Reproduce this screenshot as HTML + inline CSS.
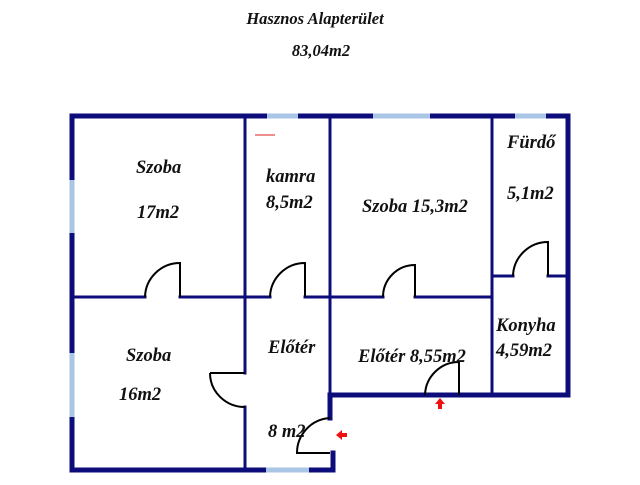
<!DOCTYPE html>
<html><head><meta charset="utf-8"><style>
body{margin:0;background:#fff;width:640px;height:480px;overflow:hidden}
svg text{font-family:"Liberation Serif",serif;font-weight:bold;font-style:italic;font-size:18.5px;fill:#111}
svg text.t{font-size:16.5px}
</style></head><body>
<svg width="640" height="480" viewBox="0 0 640 480">
<text class="t" x="315" y="24" text-anchor="middle">Hasznos Alapterület</text>
<text class="t" x="321" y="56" text-anchor="middle">83,04m2</text>
<g stroke="#0c0c7a" fill="none" stroke-linecap="square">
<path d="M72 116 H568 V395 H330 M72 116 V470 H333 V453 M330 418 V395" stroke-width="5"/>
<path d="M245 116 V373 M245 407 V470 M330 116 V418 M492 116 V395" stroke-width="3"/>
<path d="M72 297 H145 M180 297 H270 M305 297 H383 M415 297 H492 M492 276 H513 M548 276 H568" stroke-width="3"/>
<path d="M330 395 H425 M459 395 H568" stroke-width="5"/>
</g>
<g stroke="#a9c6e6" stroke-width="5">
<path d="M267 116 H298 M373 116 H430 M515 116 H546 M266 470 H309"/>
<path d="M72 180 V233 M72 353 V417"/>
</g>
<g stroke="#000" stroke-width="2" fill="none">
<path d="M145 297 A35 35 0 0 1 180 263 V297"/>
<path d="M270 297 A35 35 0 0 1 305 263 V297"/>
<path d="M383 297 A32 32 0 0 1 415 265 V297"/>
<path d="M513 276 A35 35 0 0 1 548 242 V276"/>
<path d="M425 395 A34 34 0 0 1 459 362 V395"/>
<path d="M330 418 A35 35 0 0 0 297 453 H330"/>
<path d="M210 373 H245 M210 373 A35 34 0 0 0 245 407"/>
</g>
<path d="M255 135 H275" stroke="#d22" stroke-width="1"/>
<path d="M440 398 L435 404 H438 V409 H442 V404 H445 Z" fill="#e11"/>
<path d="M336 435 L342 430 V433 H347 V437 H342 V440 Z" fill="#e11"/>
<text x="136" y="173">Szoba</text>
<text x="137" y="218">17m2</text>
<text x="266" y="182">kamra</text>
<text x="266" y="208">8,5m2</text>
<text x="362" y="212">Szoba 15,3m2</text>
<text x="507" y="148">Fürdő</text>
<text x="507" y="199">5,1m2</text>
<text x="126" y="361">Szoba</text>
<text x="119" y="400">16m2</text>
<text x="268" y="353">Előtér</text>
<text x="358" y="362">Előtér 8,55m2</text>
<text x="496" y="331">Konyha</text>
<text x="496" y="356">4,59m2</text>
<text x="268" y="437">8 m2</text>
</svg>
</body></html>
